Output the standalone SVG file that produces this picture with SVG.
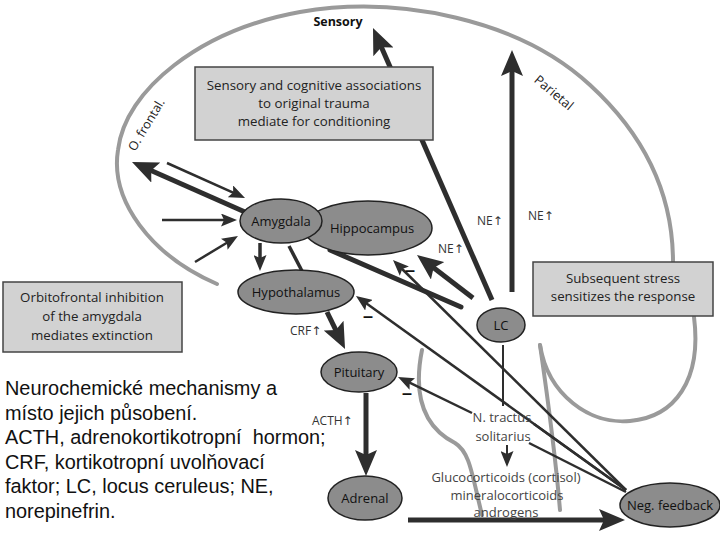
<svg xmlns="http://www.w3.org/2000/svg" width="720" height="540" viewBox="0 0 720 540">
<style>
.bg{fill:#ffffff}
.gray{fill:none;stroke:#9a9a9a;stroke-width:4;stroke-linecap:round}
.box{fill:#d2d2d2;stroke:#444;stroke-width:1.5}
.node{fill:#8c8c8c;stroke:#222;stroke-width:1.5}
.thick{stroke:#2e2e2e;stroke-width:5;fill:none}
.mid{stroke:#2e2e2e;stroke-width:3.5;fill:none}
.thin{stroke:#2e2e2e;stroke-width:2.5;fill:none}
.hair{stroke:#2e2e2e;stroke-width:2;fill:none}
.bt{font-family:"Open Sans","Liberation Sans",sans-serif;font-size:13.3px;fill:#222;text-anchor:middle}
.nt{font-family:"Open Sans","Liberation Sans",sans-serif;font-size:13px;fill:#111;text-anchor:middle}
.lt{font-family:"Open Sans","Liberation Sans",sans-serif;font-size:13px;fill:#444;text-anchor:middle}
.sm{font-family:"Open Sans","DejaVu Sans",sans-serif;font-size:12px;fill:#333}
.minus{font-family:"Liberation Sans",sans-serif;font-size:18px;font-weight:bold;fill:#111;text-anchor:middle}
.big{font-family:"Liberation Sans",Arial,sans-serif;font-size:19.9px;fill:#111;white-space:pre}
</style>
<defs>
<marker id="ahBig" markerUnits="userSpaceOnUse" markerWidth="26" markerHeight="22" refX="12" refY="11" orient="auto" viewBox="0 0 26 22"><path d="M0,0 L26,11 L0,22 L5,11 z" fill="#2e2e2e"/></marker>
<marker id="ahMed" markerUnits="userSpaceOnUse" markerWidth="16" markerHeight="13" refX="6" refY="6.5" orient="auto" viewBox="0 0 16 13"><path d="M0,0 L16,6.5 L0,13 L3,6.5 z" fill="#2e2e2e"/></marker>
</defs>
<rect class="bg" x="0" y="0" width="720" height="540"/>

<g id="brain-outline">
<path class="gray" d="M217 284 C150 255,110 200,118 150 C125 90,200 30,300 12 C400 -5,520 20,590 85 C650 140,673 200,673 262"/>
<path class="gray" d="M540 345 C548 395,590 425,630 421 C675 417,702 380,694 317"/>
<path class="gray" d="M540 345 C548 400,555 450,560 510"/>
<path class="gray" d="M422 350 C414 390,420 425,455 443 C470 452,472 475,482 515"/>
</g>

<g id="connectors">
<line class="thick" x1="492" y1="300" x2="378.6" y2="40.8" marker-end="url(#ahBig)"/>
<line class="thick" x1="512" y1="292" x2="512" y2="64" marker-end="url(#ahBig)"/>
<line class="thick" x1="245" y1="212" x2="144.8" y2="167.7" marker-end="url(#ahBig)"/>
<line class="thin" x1="167" y1="163" x2="235.9" y2="193.8" marker-end="url(#ahMed)"/>
<line class="thin" x1="162" y1="220" x2="227" y2="220" marker-end="url(#ahMed)"/>
<line class="thin" x1="195" y1="262" x2="229.4" y2="241.2" marker-end="url(#ahMed)"/>
<line class="mid" x1="260" y1="243" x2="260" y2="261" marker-end="url(#ahMed)"/>
<line class="mid" x1="289" y1="246" x2="302" y2="271"/>
<line class="thick" x1="330" y1="250" x2="461" y2="307" stroke-linecap="round"/>
<line class="thick" x1="473" y1="298" x2="428.1" y2="263.5" marker-end="url(#ahBig)"/>
<line class="thin" x1="626" y1="490" x2="400.1" y2="267" marker-end="url(#ahMed)"/>
<line class="thin" x1="626" y1="490" x2="364.1" y2="301.8" marker-end="url(#ahMed)"/>
<line class="thin" x1="534" y1="424" x2="626" y2="490"/>
<line class="thin" x1="529" y1="443" x2="626" y2="492"/>
<line class="thin" x1="472" y1="413" x2="407" y2="381.4" marker-end="url(#ahMed)"/>
<line class="hair" x1="503" y1="345" x2="503" y2="406"/>
<line class="hair" x1="507" y1="445" x2="507" y2="457" marker-end="url(#ahMed)"/>
<line class="thick" x1="408" y1="520" x2="611" y2="520" marker-end="url(#ahBig)"/>
<line class="thick" x1="327" y1="312" x2="338.9" y2="336.4" stroke-width="6" marker-end="url(#ahBig)"/>
<line class="thick" x1="366" y1="393" x2="366" y2="462" marker-end="url(#ahBig)"/>
</g>

<g id="box-sensory">
<rect class="box" x="195" y="67" width="238" height="73"/>
<text class="bt" x="314" y="90">Sensory and cognitive associations</text>
<text class="bt" x="314" y="108">to original trauma</text>
<text class="bt" x="314" y="126">mediate for conditioning</text>
</g>
<g id="box-stress">
<rect class="box" x="533" y="262" width="180" height="54"/>
<text class="bt" x="623" y="283">Subsequent stress</text>
<text class="bt" x="623" y="301">sensitizes the response</text>
</g>
<g id="box-orbitofrontal">
<rect class="box" x="3" y="282" width="179" height="70"/>
<text class="bt" x="92" y="302">Orbitofrontal inhibition</text>
<text class="bt" x="92" y="321">of the amygdala</text>
<text class="bt" x="92" y="340">mediates extinction</text>
</g>

<g id="hippocampus"><ellipse class="node" cx="368" cy="228" rx="64" ry="27"/><text class="nt" x="372" y="233">Hippocampus</text></g>
<g id="amygdala"><ellipse class="node" cx="281" cy="221" rx="41" ry="22"/><text class="nt" x="281" y="226">Amygdala</text></g>
<g id="hypothalamus"><ellipse class="node" cx="296" cy="292" rx="58" ry="22"/><text class="nt" x="296" y="297">Hypothalamus</text></g>
<g id="pituitary"><ellipse class="node" cx="359" cy="372" rx="38" ry="20"/><text class="nt" x="359" y="377">Pituitary</text></g>
<g id="adrenal"><ellipse class="node" cx="365" cy="498" rx="37" ry="22"/><text class="nt" x="365" y="503">Adrenal</text></g>
<g id="lc"><ellipse class="node" cx="501" cy="325" rx="24" ry="17"/><text class="nt" x="501" y="330">LC</text></g>
<g id="neg-feedback"><ellipse class="node" cx="670" cy="505" rx="50" ry="22"/><text class="nt" x="670" y="510">Neg. feedback</text></g>

<g id="labels">
<text x="338" y="26" font-family="'Open Sans','Liberation Sans',sans-serif" font-size="12.5" font-weight="bold" fill="#111" text-anchor="middle">Sensory</text>
<text x="0" y="0" font-family="'Open Sans','Liberation Sans',sans-serif" font-size="13" fill="#222" text-anchor="middle" transform="translate(551 96) rotate(40)">Parietal</text>
<text x="0" y="0" font-family="'Open Sans','Liberation Sans',sans-serif" font-size="12.5" fill="#222" text-anchor="middle" transform="translate(150 127) rotate(-59)">O. frontal.</text>
<text class="sm" x="477" y="225">NE↑</text>
<text class="sm" x="528" y="220">NE↑</text>
<text class="sm" x="438" y="253">NE↑</text>
<text class="sm" x="290" y="335">CRF↑</text>
<text class="sm" x="312" y="425">ACTH↑</text>
<text class="lt" x="502" y="422">N. tractus</text>
<text class="lt" x="503" y="441">solitarius</text>
<text class="lt" x="506" y="482">Glucocorticoids (cortisol)</text>
<text class="lt" x="507" y="500">mineralocorticoids</text>
<text class="lt" x="506" y="517">androgens</text>
<text class="minus" x="410" y="276">–</text>
<text class="minus" x="368" y="322">–</text>
<text class="minus" x="407" y="399">–</text>
</g>

<g id="caption">
<text class="big" x="5" y="395">Neurochemické mechanismy a</text>
<text class="big" x="5" y="419.6">místo jejich působení.</text>
<text class="big" x="5" y="444.2" xml:space="preserve">ACTH, adrenokortikotropní  hormon;</text>
<text class="big" x="5" y="468.8">CRF, kortikotropní uvolňovací</text>
<text class="big" x="5" y="493.4">faktor; LC, locus ceruleus; NE,</text>
<text class="big" x="5" y="518">norepinefrin.</text>
</g>
</svg>
